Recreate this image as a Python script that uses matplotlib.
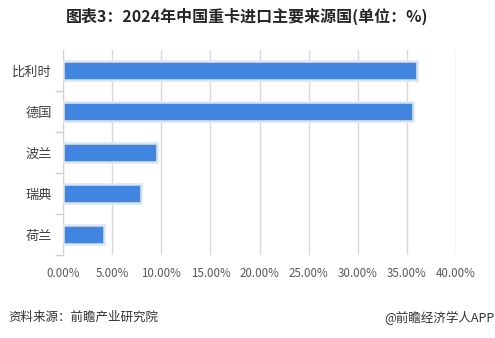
import matplotlib.pyplot as plt
import numpy as np

plt.rcParams['font.family'] = ['Noto Sans CJK SC', 'DejaVu Sans']

# 2024年中国重卡进口主要来源国占比
countries = ['比利时', '德国', '波兰', '瑞典', '荷兰']
shares = [36.0, 35.6, 9.6, 7.9, 4.2]
xticks = [0, 5, 10, 15, 20, 25, 30, 35, 40]

fig = plt.figure(figsize=(4.95, 3.38), dpi=100)
ax = fig.add_axes([0.1273, 0.2456, 0.794, 0.6065])

y = np.arange(len(countries))
ax.barh(y, shares, height=0.47, color='#4285e0', edgecolor='#dbe5f4',
        linewidth=1.8, zorder=3)

ax.set_ylim(len(countries) - 0.5, -0.5)
ax.set_xlim(0, 40)
ax.set_xticks(xticks)
ax.set_xticklabels([f'{v:.2f}%' for v in xticks], fontsize=8.3, color='#595959')
ax.set_yticks(y)
ax.set_yticklabels(countries, fontsize=9.5, color='#404040')
ax.tick_params(axis='x', length=0, pad=9)
ax.tick_params(axis='y', length=0, pad=8)

# category boundary ticks on the left spine
for b in np.arange(0.5, len(countries), 1.0):
    ax.plot([-0.7, 0], [b, b], color='#d0d0d0', lw=1, clip_on=False)

ax.grid(axis='x', color='#d9d9d9', lw=1, zorder=0)
for s in ['top', 'right', 'bottom']:
    ax.spines[s].set_visible(False)
ax.spines['left'].set_color('#d0d0d0')

fig.text(0.5, 0.952, '图表3：2024年中国重卡进口主要来源国(单位：%)', ha='center',
         va='center', fontsize=11.5, fontweight='bold', color='#262626')
fig.text(0.016, 0.06, '资料来源：前瞻产业研究院', ha='left', va='center',
         fontsize=9, color='#333333')
fig.text(0.998, 0.06, '@前瞻经济学人APP', ha='right', va='center',
         fontsize=9, color='#333333')

fig.savefig('out.png', dpi=100)
